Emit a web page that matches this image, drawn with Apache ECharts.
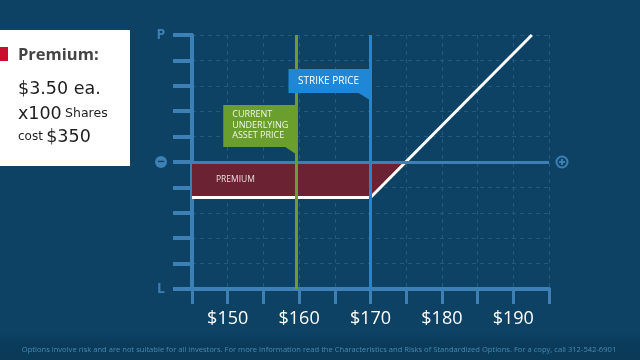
<!DOCTYPE html>
<html><head><meta charset="utf-8">
<script src="https://cdn.jsdelivr.net/npm/echarts@6/dist/echarts.min.js"></script>
<style>html,body{margin:0;padding:0;background:#0e4264}#c{width:640px;height:360px}</style>
</head><body><div id="c"></div>
<script>
// ---- data ----
const xMin = 145, xMax = 195, xStep = 5;
const yMin = -12.5, yMax = 12.5, yStep = 2.5;
const xLabelValues = [150, 160, 170, 180, 190];
const payoffX = [145, 170, 192.6];
const payoffY = [-3.5, -3.5, 12.5];
const premiumX = [145, 170, 174.8];
const premiumY = [-3.5, -3.5, 0];
const strikePrice = 170;
const currentPrice = 159.6;
const yEndLabels = { top: 'P', bottom: 'L' };
const strikeLabel = 'STRIKE PRICE';
const currentLabel = ['CURRENT', 'UNDERLYING', 'ASSET PRICE'];
const premiumLabel = 'PREMIUM';
const cardTitle = 'Premium:';
const cardLines = ['$3.50 ea.', 'x100', 'Shares', 'cost', '$350'];
const footer = 'Options involve risk and are not suitable for all investors. For more information read the Characteristics and Risks of Standardized Options. For a copy, call 312-542-6901';

// ---- styles ----
const BG = '#0e4264', AX = '#3c80b6', GRID = '#1e5a82', GREEN = '#6a9e2d', BLUE = '#1f87d6', RED = '#6b2232';
const FF = '"Open Sans", Lato, sans-serif';
const FC = '"DejaVu Sans", "Open Sans", sans-serif';

const chart = echarts.init(document.getElementById('c'));
const zip = (a, b) => a.map((v, i) => [v, b[i]]);

chart.setOption({
  backgroundColor: BG,
  animation: false,
  grid: { left: 192, right: 91, top: 35, bottom: 71 },
  xAxis: {
    type: 'value', min: xMin, max: xMax, interval: xStep,
    axisLine: { onZero: false, lineStyle: { color: AX, width: 4 } },
    axisTick: { length: 15, lineStyle: { color: AX, width: 3 } },
    axisLabel: {
      margin: 21, color: '#ffffff', fontSize: 18, fontFamily: FF,
      formatter: v => xLabelValues.includes(v) ? '$' + v : ''
    },
    splitLine: { show: true, lineStyle: { color: GRID, type: [4, 4], width: 1 } }
  },
  yAxis: {
    type: 'value', min: yMin, max: yMax, interval: yStep,
    axisLine: { show: true, onZero: false, lineStyle: { color: AX, width: 4 } },
    axisTick: { show: true, length: 19, lineStyle: { color: AX, width: 4 } },
    axisLabel: {
      margin: 31, align: 'center',
      formatter: v => v === yMax ? '{p|' + yEndLabels.top + '}' : v === yMin ? '{p|' + yEndLabels.bottom + '}' : v === 0 ? '{m|−}' : '',
      rich: {
        p: { color: AX, fontSize: 14, fontWeight: 'bold', fontFamily: FF, width: 14, align: 'center' },
        m: { color: BG, backgroundColor: AX, width: 12, height: 12, lineHeight: 12, borderRadius: 6, align: 'center', fontSize: 13, fontWeight: 'bold', fontFamily: FF }
      }
    },
    splitLine: { show: true, lineStyle: { color: GRID, type: [4, 4], width: 1 } }
  },
  series: [
    {
      type: 'line', data: zip(premiumX, premiumY), symbol: 'none', z: 2,
      lineStyle: { width: 0 },
      areaStyle: { color: RED, opacity: 1, origin: 0 },
      markLine: {
        silent: true, symbol: 'none', label: { show: false },
        lineStyle: { color: AX, width: 3, type: 'solid' },
        data: [{ yAxis: 0 }]
      }
    },
    {
      type: 'line', data: zip(payoffX, payoffY), symbol: 'none', z: 4,
      lineStyle: { color: '#ffffff', width: 3 },
      markLine: {
        silent: true, symbol: 'none', label: { show: false },
        data: [
          { xAxis: currentPrice, lineStyle: { color: GREEN, width: 3, type: 'solid' } },
          { xAxis: strikePrice, lineStyle: { color: BLUE, width: 3, type: 'solid' } }
        ]
      }
    }
  ]
});

const P = (x, y) => chart.convertToPixel({ gridIndex: 0 }, [x, y]);
const sp = P(strikePrice, 0), cp = P(currentPrice, 0), z0 = P(xMin, 0), zEnd = P(xMax, 0);
const prem = P(xMin, -1.75);

chart.setOption({
  graphic: [
    // strike label
    { type: 'polygon', z: 10, shape: { points: [[sp[0] - 82, 69], [sp[0] + 1, 69], [sp[0] + 1, 101], [sp[0] - 12, 93], [sp[0] - 82, 93]] }, style: { fill: BLUE } },
    { type: 'text', z: 11, x: sp[0] - 42, y: 81, style: { text: strikeLabel, fill: '#ffffff', font: '10px ' + FF, align: 'center', verticalAlign: 'middle' } },
    // current price label
    { type: 'polygon', z: 10, shape: { points: [[cp[0] - 73, 105], [cp[0] + 1, 105], [cp[0] + 1, 155], [cp[0] - 11, 147], [cp[0] - 73, 147]] }, style: { fill: GREEN } },
    { type: 'text', z: 11, x: cp[0] - 64, y: 125, style: { text: currentLabel.join('\n'), fill: '#f2f6ea', font: '9px ' + FF, lineHeight: 10.7, align: 'left', verticalAlign: 'middle' } },
    // premium label
    { type: 'text', z: 11, x: z0[0] + 24, y: prem[1], style: { text: premiumLabel, fill: '#ecdde0', font: '8.5px ' + FF, align: 'left', verticalAlign: 'middle', letterSpacing: 1 } },
    // plus circle
    { type: 'circle', z: 10, shape: { cx: zEnd[0] + 13, cy: zEnd[1], r: 5.5 }, style: { fill: 'none', stroke: AX, lineWidth: 2 } },
    { type: 'rect', z: 11, shape: { x: zEnd[0] + 10, y: zEnd[1] - 1, width: 6, height: 2 }, style: { fill: AX } },
    { type: 'rect', z: 11, shape: { x: zEnd[0] + 12, y: zEnd[1] - 3, width: 2, height: 6 }, style: { fill: AX } },
    // card
    { type: 'rect', z: 10, shape: { x: 0, y: 30, width: 130, height: 136 }, style: { fill: '#ffffff' } },
    { type: 'rect', z: 11, shape: { x: 0, y: 47, width: 8, height: 14 }, style: { fill: '#c8102e' } },
    { type: 'text', z: 11, x: 18, y: 64, style: { text: cardTitle, fill: '#444444', font: 'bold 16.5px ' + FF, verticalAlign: 'bottom' } },
    { type: 'text', z: 11, x: 18, y: 98, style: { text: cardLines[0], fill: '#1e1e1e', font: '17.5px ' + FC, verticalAlign: 'bottom' } },
    { type: 'text', z: 11, x: 18, y: 123, style: { text: '{a|' + cardLines[1] + '} {b|' + cardLines[2] + '}', verticalAlign: 'bottom', rich: { a: { fill: '#1e1e1e', font: '17.5px ' + FC }, b: { fill: '#1e1e1e', font: '12.5px ' + FC } } } },
    { type: 'text', z: 11, x: 18, y: 146, style: { text: '{b|' + cardLines[3] + '} {a|' + cardLines[4] + '}', verticalAlign: 'bottom', rich: { a: { fill: '#1e1e1e', font: '17.5px ' + FC }, b: { fill: '#1e1e1e', font: '12px ' + FC } } } },
    // footer band
    { type: 'rect', z: 0, shape: { x: 0, y: 334, width: 640, height: 26 }, style: { fill: new echarts.graphic.LinearGradient(0, 0, 0, 1, [{ offset: 0, color: BG }, { offset: 0.3, color: '#0a3b5a' }, { offset: 1, color: '#0a3a58' }]) } },
    { type: 'text', z: 1, x: 319, y: 350, style: { text: footer, fill: '#4a89b3', font: '7.6px ' + FF, align: 'center', verticalAlign: 'middle' } }
  ]
});
</script></body></html>
